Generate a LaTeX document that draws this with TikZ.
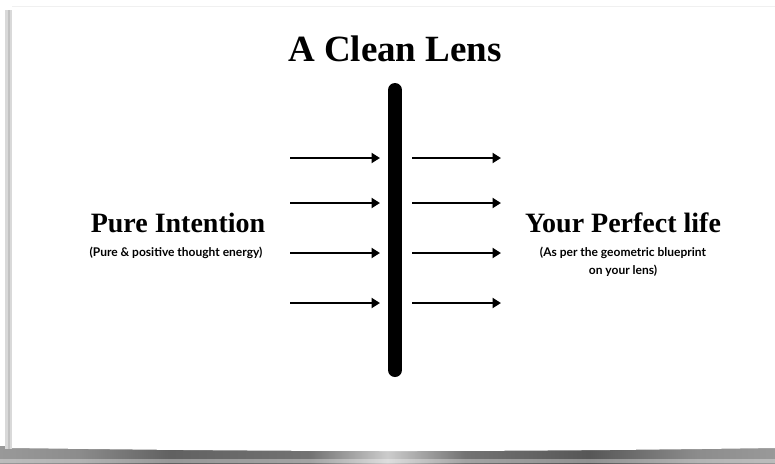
\documentclass[tikz,border=0pt]{standalone}
\usepackage{fontspec}
\setmainfont{Liberation Serif}
\newfontfamily\subfont{Lato}
\usetikzlibrary{arrows.meta}
\pgfdeclarehorizontalshading{bandshade}{100bp}{
  color(0bp)=(black!40); color(25bp)=(black!40); color(30bp)=(black!45);
  color(36bp)=(black!62); color(45bp)=(black!55); color(50bp)=(black!20);
  color(55bp)=(black!55); color(63bp)=(black!66); color(70bp)=(black!45);
  color(75bp)=(black!40); color(100bp)=(black!40)}
\tikzset{
  ray/.style={line width=2.5pt, -{Triangle[length=8.5pt,width=10pt]}},
  lensbar/.style={line width=14pt, line cap=round},
  headline/.style={font=\bfseries\fontsize{37}{40}\selectfont, anchor=base},
  mainlabel/.style={font=\bfseries\fontsize{28}{32}\selectfont, anchor=base},
  sublabel/.style={font=\subfont\bfseries\fontsize{12}{18}\selectfont, anchor=base, align=center},
}
\begin{document}
\begin{tikzpicture}[x=1pt,y=-1pt]
\useasboundingbox (0,0) rectangle (775,463);
% page shadow band
\shade[shading=bandshade] (0,446) rectangle (775,463);
\fill[white, opacity=0.35] (0,459) rectangle (775,463);
% left edge shadow
\fill[black!15] (5,10) rectangle (12,449);
\fill[black!24] (8,10) rectangle (10,449);
% card
\fill[white] (12,6) -- (775,6) -- (775,448) .. controls (500,452) and (300,452) .. (12,448) -- cycle;
\draw[black!6, line width=1pt] (12,6) -- (775,6);
% title
\node[headline] (title) at (395,61) {A Clean Lens};
% lens bar
\coordinate (bartop) at (395,90);
\coordinate (barbot) at (395,370);
\draw[lensbar] (bartop) -- (barbot);
% rays
\foreach \i/\y in {1/158,2/203,3/253,4/303}{
  \coordinate (ls\i) at (290,\y);
  \coordinate (le\i) at (380,\y);
  \coordinate (rs\i) at (412,\y);
  \coordinate (re\i) at (501,\y);
  \draw[ray] (ls\i) -- (le\i);
  \draw[ray] (rs\i) -- (re\i);
}
% labels
\node[mainlabel] (pure) at (178,232) {Pure Intention};
\node[sublabel] (puresub) at (176,256) {(Pure \& positive thought energy)};
\node[mainlabel] (life) at (623,232) {Your Perfect life};
\node[sublabel, anchor=north] (lifesub) at (623,244) {(As per the geometric blueprint\\on your lens)};
\end{tikzpicture}
\end{document}
